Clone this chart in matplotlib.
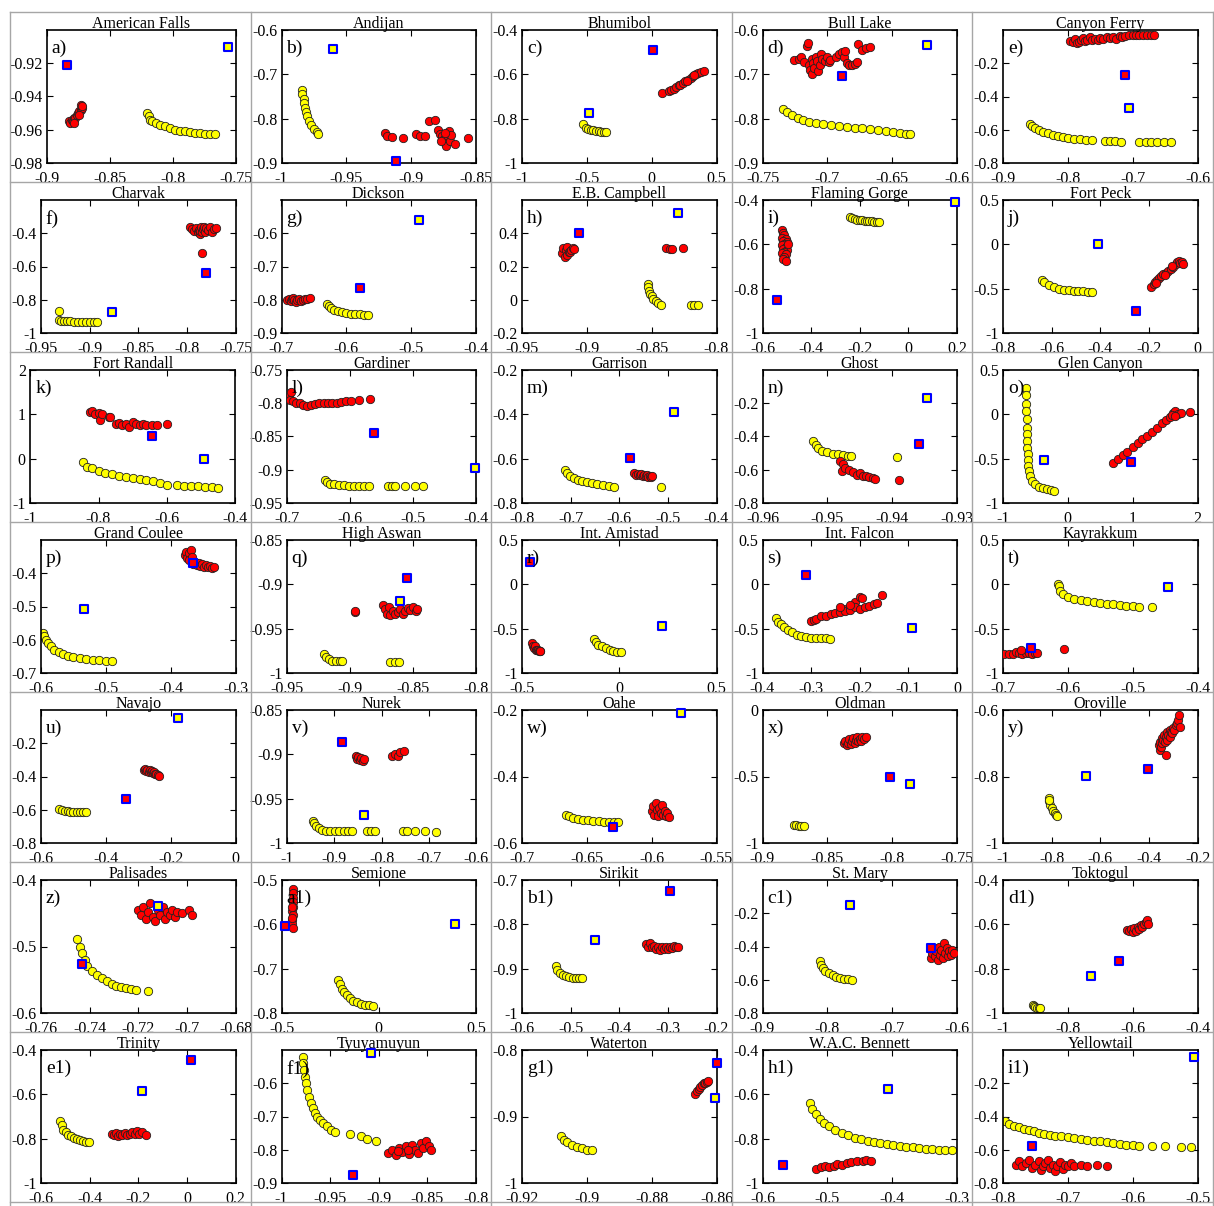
import matplotlib
matplotlib.use("Agg")
import matplotlib.pyplot as plt
from matplotlib.lines import Line2D

plt.rcParams['font.family'] = ['Liberation Serif', 'DejaVu Serif']
plt.rcParams['axes.unicode_minus'] = False

# ---- panel titles / tags ----
titles = ["American Falls", "Andijan", "Bhumibol", "Bull Lake", "Canyon Ferry",
          "Charvak", "Dickson", "E.B. Campbell", "Flaming Gorge", "Fort Peck",
          "Fort Randall", "Gardiner", "Garrison", "Ghost", "Glen Canyon",
          "Grand Coulee", "High Aswan", "Int. Amistad", "Int. Falcon", "Kayrakkum",
          "Navajo", "Nurek", "Oahe", "Oldman", "Oroville",
          "Palisades", "Semione", "Sirikit", "St. Mary", "Toktogul",
          "Trinity", "Tyuyamuyun", "Waterton", "W.A.C. Bennett", "Yellowtail"]
tags = ["a)", "b)", "c)", "d)", "e)", "f)", "g)", "h)", "i)", "j)", "k)", "l)", "m)", "n)", "o)",
        "p)", "q)", "r)", "s)", "t)", "u)", "v)", "w)", "x)", "y)", "z)", "a1)", "b1)", "c1)", "d1)",
        "e1)", "f1)", "g1)", "h1)", "i1)"]

xlims = [(-0.9, -0.75), (-1, -0.85), (-1, 0.5), (-0.75, -0.6), (-0.9, -0.6),
         (-0.95, -0.75), (-0.7, -0.4), (-0.95, -0.8), (-0.6, 0.2), (-0.8, 0),
         (-1, -0.4), (-0.7, -0.4), (-0.8, -0.4), (-0.96, -0.93), (-1, 2),
         (-0.6, -0.3), (-0.95, -0.8), (-0.5, 0.5), (-0.4, 0), (-0.7, -0.4),
         (-0.6, 0), (-1, -0.6), (-0.7, -0.55), (-0.9, -0.75), (-1, -0.2),
         (-0.76, -0.68), (-0.5, 0.5), (-0.6, -0.2), (-0.9, -0.6), (-1, -0.4),
         (-0.6, 0.2), (-1, -0.8), (-0.92, -0.86), (-0.6, -0.3), (-0.8, -0.5)]
xticks = [[-0.9, -0.85, -0.8, -0.75], [-1, -0.95, -0.9, -0.85], [-1, -0.5, 0, 0.5],
          [-0.75, -0.7, -0.65, -0.6], [-0.9, -0.8, -0.7, -0.6],
          [-0.95, -0.9, -0.85, -0.8, -0.75], [-0.7, -0.6, -0.5, -0.4], [-0.95, -0.9, -0.85, -0.8],
          [-0.6, -0.4, -0.2, 0, 0.2], [-0.8, -0.6, -0.4, -0.2, 0],
          [-1, -0.8, -0.6, -0.4], [-0.7, -0.6, -0.5, -0.4], [-0.8, -0.7, -0.6, -0.5, -0.4],
          [-0.96, -0.95, -0.94, -0.93], [-1, 0, 1, 2],
          [-0.6, -0.5, -0.4, -0.3], [-0.95, -0.9, -0.85, -0.8], [-0.5, 0, 0.5],
          [-0.4, -0.3, -0.2, -0.1, 0], [-0.7, -0.6, -0.5, -0.4],
          [-0.6, -0.4, -0.2, 0], [-1, -0.9, -0.8, -0.7, -0.6], [-0.7, -0.65, -0.6, -0.55],
          [-0.9, -0.85, -0.8, -0.75], [-1, -0.8, -0.6, -0.4, -0.2],
          [-0.76, -0.74, -0.72, -0.7, -0.68], [-0.5, 0, 0.5], [-0.6, -0.5, -0.4, -0.3, -0.2],
          [-0.9, -0.8, -0.7, -0.6], [-1, -0.8, -0.6, -0.4],
          [-0.6, -0.4, -0.2, 0, 0.2], [-1, -0.95, -0.9, -0.85, -0.8], [-0.92, -0.9, -0.88, -0.86],
          [-0.6, -0.5, -0.4, -0.3], [-0.8, -0.7, -0.6, -0.5]]
ylims = [(-0.98, -0.90), (-0.9, -0.6), (-1, -0.4), (-0.9, -0.6), (-0.8, 0),
         (-1, -0.2), (-0.9, -0.5), (-0.2, 0.6), (-1, -0.4), (-1, 0.5),
         (-1, 2), (-0.95, -0.75), (-0.8, -0.2), (-0.8, 0), (-1, 0.5),
         (-0.7, -0.3), (-1, -0.85), (-1, 0.5), (-1, 0.5), (-1, 0.5),
         (-0.8, 0), (-1, -0.85), (-0.6, -0.2), (-1, 0), (-1, -0.6),
         (-0.6, -0.4), (-0.8, -0.5), (-1, -0.7), (-0.8, 0), (-1, -0.4),
         (-1, -0.4), (-0.9, -0.5), (-1, -0.8), (-1, -0.4), (-0.8, 0)]
yticks = [[-0.98, -0.96, -0.94, -0.92], [-0.9, -0.8, -0.7, -0.6], [-1, -0.8, -0.6, -0.4],
          [-0.9, -0.8, -0.7, -0.6], [-0.8, -0.6, -0.4, -0.2],
          [-1, -0.8, -0.6, -0.4], [-0.9, -0.8, -0.7, -0.6], [-0.2, 0, 0.2, 0.4],
          [-1, -0.8, -0.6, -0.4], [-1, -0.5, 0, 0.5],
          [-1, 0, 1, 2], [-0.95, -0.9, -0.85, -0.8, -0.75], [-0.8, -0.6, -0.4, -0.2],
          [-0.8, -0.6, -0.4, -0.2], [-1, -0.5, 0, 0.5],
          [-0.7, -0.6, -0.5, -0.4], [-1, -0.95, -0.9, -0.85], [-1, -0.5, 0, 0.5],
          [-1, -0.5, 0, 0.5], [-1, -0.5, 0, 0.5],
          [-0.8, -0.6, -0.4, -0.2], [-1, -0.95, -0.9, -0.85], [-0.6, -0.4, -0.2],
          [-1, -0.5, 0], [-1, -0.8, -0.6],
          [-0.6, -0.5, -0.4], [-0.8, -0.7, -0.6, -0.5], [-1, -0.9, -0.8, -0.7],
          [-0.8, -0.6, -0.4, -0.2], [-1, -0.8, -0.6, -0.4],
          [-1, -0.8, -0.6, -0.4], [-0.9, -0.8, -0.7, -0.6], [-1, -0.9, -0.8],
          [-1, -0.8, -0.6, -0.4], [-0.8, -0.6, -0.4, -0.2]]

# ---- a) American Falls ----
yel_a = [(-0.820, -0.950), (-0.819, -0.952), (-0.818, -0.954), (-0.816, -0.955), (-0.813, -0.956),
         (-0.810, -0.957), (-0.806, -0.958), (-0.802, -0.959), (-0.798, -0.960), (-0.794, -0.9605),
         (-0.790, -0.961), (-0.786, -0.9615), (-0.782, -0.962), (-0.778, -0.962), (-0.774, -0.9625),
         (-0.770, -0.9625), (-0.766, -0.9625)]
red_a = [(-0.882, -0.955), (-0.881, -0.956), (-0.880, -0.954), (-0.879, -0.955), (-0.878, -0.953),
         (-0.877, -0.953), (-0.876, -0.951), (-0.875, -0.950), (-0.874, -0.949), (-0.873, -0.948),
         (-0.872, -0.947), (-0.873, -0.945), (-0.872, -0.946), (-0.874, -0.951), (-0.878, -0.956)]
sqr_a = [(-0.884, -0.921)]
sqy_a = [(-0.756, -0.910)]

# ---- b) Andijan ----
yel_b = [(-0.984, -0.735), (-0.984, -0.745), (-0.983, -0.755), (-0.983, -0.765), (-0.982, -0.775),
         (-0.981, -0.785), (-0.980, -0.795), (-0.979, -0.805), (-0.977, -0.815), (-0.975, -0.823),
         (-0.973, -0.830), (-0.972, -0.835)]
red_b = [(-0.920, -0.832), (-0.919, -0.840), (-0.915, -0.842), (-0.906, -0.843), (-0.896, -0.834),
         (-0.893, -0.838), (-0.889, -0.840), (-0.886, -0.805), (-0.882, -0.802), (-0.879, -0.825),
         (-0.878, -0.835), (-0.876, -0.840), (-0.875, -0.845), (-0.874, -0.855), (-0.873, -0.862),
         (-0.871, -0.828), (-0.870, -0.850), (-0.869, -0.836), (-0.866, -0.858), (-0.856, -0.843),
         (-0.877, -0.850), (-0.874, -0.832)]
sqr_b = [(-0.912, -0.895)]
sqy_b = [(-0.960, -0.643)]

# ---- c) Bhumibol ----
yel_c = [(-0.53, -0.825), (-0.51, -0.840), (-0.49, -0.845), (-0.47, -0.850), (-0.45, -0.852),
         (-0.43, -0.855), (-0.41, -0.857), (-0.39, -0.860), (-0.37, -0.860), (-0.35, -0.862)]
red_c = [(0.08, -0.685), (0.13, -0.675), (0.15, -0.672), (0.17, -0.665), (0.19, -0.658),
         (0.21, -0.650), (0.22, -0.648), (0.24, -0.640), (0.26, -0.632), (0.28, -0.625),
         (0.30, -0.615), (0.32, -0.607), (0.34, -0.598), (0.36, -0.592), (0.38, -0.588),
         (0.40, -0.585), (0.27, -0.628), (0.33, -0.605)]
sqr_c = [(0.01, -0.49)]
sqy_c = [(-0.48, -0.775)]

# ---- d) Bull Lake ----
yel_d = [(-0.734, -0.778), (-0.731, -0.785), (-0.727, -0.792), (-0.723, -0.798), (-0.719, -0.803),
         (-0.714, -0.807), (-0.709, -0.810), (-0.703, -0.812), (-0.697, -0.814), (-0.691, -0.816),
         (-0.685, -0.818), (-0.679, -0.820), (-0.673, -0.822), (-0.667, -0.824), (-0.661, -0.826),
         (-0.655, -0.828), (-0.649, -0.830), (-0.644, -0.832), (-0.639, -0.834), (-0.636, -0.835)]
red_d = [(-0.726, -0.668), (-0.722, -0.665), (-0.720, -0.660), (-0.718, -0.672), (-0.716, -0.635),
         (-0.715, -0.630), (-0.714, -0.680), (-0.713, -0.690), (-0.712, -0.700), (-0.712, -0.665),
         (-0.711, -0.675), (-0.710, -0.685), (-0.709, -0.660), (-0.708, -0.670), (-0.707, -0.692),
         (-0.706, -0.678), (-0.705, -0.655), (-0.704, -0.665), (-0.702, -0.670), (-0.700, -0.660),
         (-0.699, -0.672), (-0.698, -0.667), (-0.693, -0.660), (-0.691, -0.655), (-0.689, -0.650),
         (-0.687, -0.662), (-0.686, -0.648), (-0.685, -0.675), (-0.683, -0.680), (-0.681, -0.678),
         (-0.679, -0.676), (-0.677, -0.672), (-0.676, -0.632), (-0.673, -0.645), (-0.670, -0.640),
         (-0.667, -0.638)]
sqr_d = [(-0.689, -0.704)]
sqy_d = [(-0.623, -0.633)]

# ---- e) Canyon Ferry ----
yel_e = [(-0.858, -0.568), (-0.855, -0.580), (-0.850, -0.592), (-0.845, -0.602), (-0.838, -0.612),
         (-0.831, -0.622), (-0.823, -0.630), (-0.815, -0.638), (-0.807, -0.645), (-0.799, -0.650),
         (-0.790, -0.655), (-0.781, -0.658), (-0.772, -0.661), (-0.763, -0.664), (-0.742, -0.668),
         (-0.735, -0.668), (-0.728, -0.670), (-0.718, -0.672), (-0.690, -0.674), (-0.680, -0.674),
         (-0.672, -0.674), (-0.662, -0.675), (-0.652, -0.675), (-0.641, -0.676)]
red_e = [(-0.796, -0.065), (-0.792, -0.075), (-0.789, -0.055), (-0.786, -0.080), (-0.783, -0.070),
         (-0.780, -0.060), (-0.777, -0.050), (-0.774, -0.068), (-0.770, -0.058), (-0.766, -0.045),
         (-0.762, -0.062), (-0.758, -0.052), (-0.754, -0.060), (-0.750, -0.048), (-0.745, -0.055),
         (-0.740, -0.045), (-0.735, -0.050), (-0.730, -0.040), (-0.725, -0.052), (-0.720, -0.038),
         (-0.716, -0.045), (-0.712, -0.035), (-0.705, -0.030), (-0.700, -0.028), (-0.695, -0.030),
         (-0.690, -0.028), (-0.684, -0.030), (-0.678, -0.028), (-0.672, -0.028), (-0.667, -0.030)]
sqr_e = [(-0.712, -0.268)]
sqy_e = [(-0.705, -0.468)]

# ---- f) Charvak ----
yel_f = [(-0.932, -0.866), (-0.931, -0.922), (-0.929, -0.926), (-0.926, -0.928), (-0.923, -0.930),
         (-0.920, -0.930), (-0.916, -0.931), (-0.912, -0.932), (-0.908, -0.933), (-0.904, -0.934),
         (-0.900, -0.934), (-0.896, -0.935), (-0.892, -0.936)]
red_f = [(-0.797, -0.360), (-0.795, -0.372), (-0.793, -0.385), (-0.791, -0.368), (-0.789, -0.395),
         (-0.788, -0.378), (-0.787, -0.405), (-0.786, -0.385), (-0.785, -0.365), (-0.784, -0.392),
         (-0.783, -0.375), (-0.782, -0.360), (-0.781, -0.395), (-0.780, -0.370), (-0.778, -0.380),
         (-0.776, -0.365), (-0.774, -0.390), (-0.772, -0.372), (-0.770, -0.368), (-0.784, -0.518)]
sqr_f = [(-0.780, -0.638)]
sqy_f = [(-0.877, -0.876)]

# ---- g) Dickson ----
yel_g = [(-0.630, -0.813), (-0.627, -0.820), (-0.624, -0.826), (-0.619, -0.830), (-0.613, -0.834),
         (-0.607, -0.837), (-0.600, -0.840), (-0.593, -0.842), (-0.586, -0.843), (-0.579, -0.844),
         (-0.572, -0.845), (-0.566, -0.846)]
red_g = [(-0.691, -0.800), (-0.688, -0.797), (-0.686, -0.803), (-0.684, -0.799), (-0.682, -0.795),
         (-0.680, -0.802), (-0.678, -0.806), (-0.676, -0.800), (-0.673, -0.798), (-0.670, -0.803),
         (-0.667, -0.800), (-0.664, -0.799), (-0.660, -0.797), (-0.656, -0.794)]
sqr_g = [(-0.579, -0.766)]
sqy_g = [(-0.488, -0.561)]

# ---- h) E.B. Campbell ----
yel_h = [(-0.853, 0.094), (-0.853, 0.075), (-0.852, 0.055), (-0.851, 0.035), (-0.850, 0.020),
         (-0.849, 0.005), (-0.847, -0.010), (-0.845, -0.022), (-0.843, -0.030), (-0.820, -0.032),
         (-0.817, -0.034), (-0.814, -0.033)]
red_h = [(-0.919, 0.28), (-0.918, 0.31), (-0.917, 0.26), (-0.916, 0.30), (-0.915, 0.27),
         (-0.915, 0.32), (-0.914, 0.29), (-0.913, 0.285), (-0.912, 0.30), (-0.911, 0.31),
         (-0.910, 0.305), (-0.839, 0.31), (-0.836, 0.308), (-0.834, 0.305), (-0.826, 0.313)]
sqr_h = [(-0.906, 0.40)]
sqy_h = [(-0.830, 0.52)]

# ---- i) Flaming Gorge ----
yel_i = [(-0.240, -0.475), (-0.230, -0.480), (-0.220, -0.485), (-0.210, -0.488), (-0.200, -0.490),
         (-0.190, -0.492), (-0.180, -0.493), (-0.170, -0.494), (-0.160, -0.495), (-0.150, -0.496),
         (-0.140, -0.497), (-0.130, -0.497), (-0.120, -0.497)]
red_i = [(-0.520, -0.535), (-0.515, -0.550), (-0.510, -0.560), (-0.520, -0.570), (-0.505, -0.575),
         (-0.515, -0.585), (-0.500, -0.590), (-0.510, -0.600), (-0.520, -0.605), (-0.505, -0.610),
         (-0.515, -0.620), (-0.500, -0.625), (-0.510, -0.635), (-0.520, -0.640), (-0.505, -0.645),
         (-0.510, -0.655), (-0.515, -0.665), (-0.505, -0.675), (-0.495, -0.600)]
sqr_i = [(-0.542, -0.853)]
sqy_i = [(0.192, -0.408)]

# ---- j) Fort Peck ----
yel_j = [(-0.64, -0.40), (-0.63, -0.43), (-0.61, -0.46), (-0.59, -0.48), (-0.57, -0.50),
         (-0.55, -0.51), (-0.53, -0.52), (-0.51, -0.525), (-0.49, -0.53), (-0.47, -0.53),
         (-0.45, -0.535), (-0.435, -0.535)]
red_j = [(-0.19, -0.48), (-0.18, -0.45), (-0.175, -0.42), (-0.165, -0.40), (-0.16, -0.38),
         (-0.15, -0.36), (-0.14, -0.34), (-0.13, -0.32), (-0.12, -0.30), (-0.11, -0.28),
         (-0.10, -0.25), (-0.09, -0.22), (-0.085, -0.20), (-0.075, -0.19), (-0.07, -0.21),
         (-0.065, -0.20), (-0.058, -0.22), (-0.105, -0.24), (-0.17, -0.44), (-0.135, -0.35)]
sqr_j = [(-0.255, -0.75)]
sqy_j = [(-0.41, 0.005)]

# ---- k) Fort Randall ----
yel_k = [(-0.845, -0.07), (-0.835, -0.18), (-0.82, -0.22), (-0.80, -0.28), (-0.78, -0.32),
         (-0.76, -0.35), (-0.74, -0.38), (-0.72, -0.41), (-0.70, -0.43), (-0.68, -0.46),
         (-0.66, -0.48), (-0.64, -0.51), (-0.62, -0.55), (-0.60, -0.60), (-0.57, -0.60),
         (-0.55, -0.61), (-0.53, -0.62), (-0.51, -0.62), (-0.49, -0.63), (-0.47, -0.63),
         (-0.45, -0.66)]
red_k = [(-0.826, 1.05), (-0.82, 1.07), (-0.81, 1.00), (-0.80, 1.02), (-0.795, 0.88),
         (-0.79, 1.00), (-0.77, 0.93), (-0.765, 0.95), (-0.75, 0.78), (-0.74, 0.80),
         (-0.73, 0.76), (-0.72, 0.78), (-0.71, 0.72), (-0.70, 0.83), (-0.69, 0.78),
         (-0.68, 0.75), (-0.67, 0.79), (-0.66, 0.75), (-0.645, 0.75), (-0.63, 0.77), (-0.60, 0.78)]
sqr_k = [(-0.644, 0.52)]
sqy_k = [(-0.492, 0.0)]

# ---- l) Gardiner ----
yel_l = [(-0.639, -0.916), (-0.636, -0.919), (-0.632, -0.921), (-0.625, -0.922), (-0.618, -0.923),
         (-0.610, -0.923), (-0.602, -0.924), (-0.594, -0.924), (-0.586, -0.924), (-0.578, -0.924),
         (-0.570, -0.924), (-0.540, -0.925), (-0.534, -0.925), (-0.528, -0.925), (-0.512, -0.925),
         (-0.497, -0.925), (-0.484, -0.925)]
red_l = [(-0.697, -0.788), (-0.695, -0.795), (-0.694, -0.783), (-0.690, -0.797), (-0.686, -0.800),
         (-0.680, -0.800), (-0.674, -0.803), (-0.668, -0.804), (-0.662, -0.802), (-0.656, -0.801),
         (-0.649, -0.800), (-0.642, -0.800), (-0.635, -0.800), (-0.628, -0.799), (-0.621, -0.799),
         (-0.614, -0.798), (-0.607, -0.797), (-0.598, -0.797), (-0.585, -0.795), (-0.568, -0.794)]
sqr_l = [(-0.562, -0.844)]
sqy_l = [(-0.402, -0.898)]

# ---- m) Garrison ----
yel_m = [(-0.712, -0.650), (-0.708, -0.665), (-0.702, -0.677), (-0.694, -0.687), (-0.685, -0.695),
         (-0.676, -0.701), (-0.666, -0.706), (-0.656, -0.711), (-0.645, -0.715), (-0.634, -0.719),
         (-0.622, -0.724), (-0.610, -0.730), (-0.514, -0.730)]
red_m = [(-0.570, -0.665), (-0.566, -0.672), (-0.562, -0.668), (-0.558, -0.675), (-0.555, -0.670),
         (-0.552, -0.678), (-0.549, -0.672), (-0.546, -0.680), (-0.543, -0.675), (-0.540, -0.682),
         (-0.537, -0.676), (-0.534, -0.683), (-0.532, -0.678)]
sqr_m = [(-0.577, -0.597)]
sqy_m = [(-0.487, -0.388)]

# ---- n) Ghost ----
yel_n = [(-0.9522, -0.43), (-0.9518, -0.45), (-0.9514, -0.47), (-0.9508, -0.485), (-0.9500, -0.495),
         (-0.9492, -0.503), (-0.9484, -0.508), (-0.9476, -0.512), (-0.9468, -0.516), (-0.9463, -0.52),
         (-0.9392, -0.526)]
red_n = [(-0.9480, -0.55), (-0.9476, -0.565), (-0.9478, -0.61), (-0.9472, -0.59), (-0.9466, -0.60),
         (-0.9460, -0.615), (-0.9455, -0.63), (-0.9450, -0.62), (-0.9445, -0.64), (-0.9440, -0.635),
         (-0.9435, -0.645), (-0.9430, -0.65), (-0.9427, -0.655), (-0.9389, -0.66)]
sqr_n = [(-0.9359, -0.444)]
sqy_n = [(-0.9347, -0.17)]

# ---- o) Glen Canyon ----
yel_o = [(-0.64, 0.30), (-0.64, 0.22), (-0.64, 0.12), (-0.64, 0.04), (-0.635, -0.05),
         (-0.635, -0.15), (-0.63, -0.22), (-0.63, -0.30), (-0.625, -0.38), (-0.62, -0.45),
         (-0.615, -0.52), (-0.61, -0.58), (-0.60, -0.64), (-0.58, -0.70), (-0.55, -0.75),
         (-0.50, -0.79), (-0.44, -0.82), (-0.38, -0.83), (-0.32, -0.84), (-0.26, -0.85), (-0.22, -0.86)]
red_o = [(0.70, -0.55), (0.78, -0.50), (0.85, -0.46), (0.92, -0.42), (1.00, -0.37),
         (1.08, -0.32), (1.15, -0.28), (1.22, -0.25), (1.30, -0.20), (1.38, -0.15),
         (1.45, -0.10), (1.52, -0.06), (1.58, -0.03), (1.62, 0.01), (1.66, 0.04),
         (1.70, 0.00), (1.75, 0.02), (1.88, 0.03), (1.60, -0.01), (1.66, -0.02)]
sqr_o = [(0.978, -0.54)]
sqy_o = [(-0.37, -0.51)]

# ---- p) Grand Coulee ----
yel_p = [(-0.597, -0.580), (-0.595, -0.590), (-0.592, -0.600), (-0.589, -0.610), (-0.585, -0.620),
         (-0.580, -0.630), (-0.573, -0.638), (-0.566, -0.643), (-0.558, -0.648), (-0.550, -0.651),
         (-0.540, -0.654), (-0.530, -0.657), (-0.520, -0.660), (-0.510, -0.662), (-0.500, -0.664),
         (-0.490, -0.665)]
red_p = [(-0.378, -0.345), (-0.376, -0.335), (-0.375, -0.355), (-0.372, -0.340), (-0.371, -0.360),
         (-0.369, -0.330), (-0.367, -0.350), (-0.365, -0.372), (-0.362, -0.365), (-0.360, -0.375),
         (-0.357, -0.370), (-0.354, -0.378), (-0.351, -0.372), (-0.348, -0.380), (-0.345, -0.375),
         (-0.342, -0.382), (-0.339, -0.378), (-0.336, -0.384), (-0.333, -0.380)]
sqr_p = [(-0.365, -0.370)]
sqy_p = [(-0.533, -0.507)]

# ---- q) High Aswan ----
yel_q = [(-0.921, -0.979), (-0.919, -0.982), (-0.917, -0.984), (-0.914, -0.986), (-0.911, -0.987),
         (-0.908, -0.987), (-0.906, -0.987), (-0.868, -0.988), (-0.864, -0.988), (-0.861, -0.988)]
red_q = [(-0.896, -0.931), (-0.896, -0.930), (-0.874, -0.923), (-0.872, -0.928), (-0.871, -0.933),
         (-0.869, -0.926), (-0.868, -0.935), (-0.866, -0.930), (-0.864, -0.934), (-0.862, -0.931),
         (-0.860, -0.928), (-0.858, -0.933), (-0.856, -0.930), (-0.854, -0.927), (-0.852, -0.929),
         (-0.850, -0.926), (-0.848, -0.930), (-0.847, -0.928)]
sqr_q = [(-0.855, -0.893)]
sqy_q = [(-0.860, -0.919)]

# ---- r) Int. Amistad ----
yel_r = [(-0.13, -0.62), (-0.12, -0.65), (-0.11, -0.68), (-0.09, -0.70), (-0.07, -0.72),
         (-0.05, -0.74), (-0.03, -0.75), (-0.01, -0.76), (0.01, -0.765)]
red_r = [(-0.450, -0.66), (-0.445, -0.69), (-0.440, -0.72), (-0.435, -0.70), (-0.430, -0.735),
         (-0.425, -0.74), (-0.420, -0.745), (-0.415, -0.75), (-0.410, -0.755), (-0.405, -0.75)]
sqr_r = [(-0.458, 0.256)]
sqy_r = [(0.22, -0.47)]

# ---- s) Int. Falcon ----
yel_s = [(-0.372, -0.38), (-0.368, -0.42), (-0.362, -0.45), (-0.355, -0.48), (-0.348, -0.51),
         (-0.340, -0.54), (-0.330, -0.57), (-0.320, -0.58), (-0.310, -0.59), (-0.300, -0.60),
         (-0.290, -0.60), (-0.280, -0.61), (-0.270, -0.61), (-0.262, -0.62)]
red_s = [(-0.300, -0.41), (-0.295, -0.40), (-0.290, -0.39), (-0.280, -0.36), (-0.270, -0.36),
         (-0.260, -0.34), (-0.250, -0.32), (-0.240, -0.31), (-0.230, -0.28), (-0.230, -0.30),
         (-0.220, -0.26), (-0.220, -0.29), (-0.210, -0.20), (-0.210, -0.25), (-0.200, -0.14),
         (-0.200, -0.28), (-0.195, -0.15), (-0.190, -0.26), (-0.180, -0.24), (-0.170, -0.22),
         (-0.165, -0.21), (-0.155, -0.12), (-0.240, -0.25), (-0.220, -0.23)]
sqr_s = [(-0.310, 0.11)]
sqy_s = [(-0.093, -0.495)]

# ---- t) Kayrakkum ----
yel_t = [(-0.615, 0.00), (-0.614, -0.02), (-0.612, -0.08), (-0.608, -0.11), (-0.600, -0.14),
         (-0.590, -0.16), (-0.580, -0.18), (-0.570, -0.19), (-0.560, -0.20), (-0.550, -0.21),
         (-0.540, -0.22), (-0.530, -0.225), (-0.520, -0.23), (-0.510, -0.24), (-0.500, -0.245),
         (-0.490, -0.25), (-0.470, -0.26)]
red_t = [(-0.698, -0.79), (-0.690, -0.79), (-0.685, -0.785), (-0.680, -0.76), (-0.675, -0.78),
         (-0.670, -0.79), (-0.665, -0.77), (-0.660, -0.78), (-0.655, -0.785), (-0.650, -0.77),
         (-0.648, -0.775), (-0.672, -0.74), (-0.606, -0.73)]
sqr_t = [(-0.657, -0.72)]
sqy_t = [(-0.446, -0.03)]

# ---- u) Navajo ----
yel_u = [(-0.543, -0.598), (-0.535, -0.603), (-0.527, -0.607), (-0.518, -0.610), (-0.509, -0.612),
         (-0.500, -0.613), (-0.490, -0.614), (-0.480, -0.614), (-0.470, -0.615), (-0.462, -0.615)]
red_u = [(-0.282, -0.360), (-0.278, -0.355), (-0.275, -0.365), (-0.272, -0.358), (-0.268, -0.370),
         (-0.265, -0.362), (-0.262, -0.375), (-0.258, -0.368), (-0.255, -0.378), (-0.252, -0.372),
         (-0.248, -0.382), (-0.244, -0.385), (-0.240, -0.390), (-0.235, -0.395)]
sqr_u = [(-0.339, -0.534)]
sqy_u = [(-0.177, -0.046)]

# ---- v) Nurek ----
yel_v = [(-0.944, -0.975), (-0.942, -0.978), (-0.938, -0.981), (-0.932, -0.983), (-0.925, -0.985),
         (-0.917, -0.986), (-0.908, -0.986), (-0.899, -0.987), (-0.890, -0.987), (-0.880, -0.987),
         (-0.871, -0.987), (-0.863, -0.987), (-0.830, -0.987), (-0.822, -0.987), (-0.814, -0.987),
         (-0.754, -0.987), (-0.745, -0.987), (-0.730, -0.987), (-0.707, -0.987), (-0.685, -0.988)]
red_v = [(-0.855, -0.902), (-0.852, -0.905), (-0.849, -0.903), (-0.846, -0.906), (-0.843, -0.904),
         (-0.840, -0.907), (-0.837, -0.905), (-0.778, -0.902), (-0.772, -0.900), (-0.765, -0.902),
         (-0.760, -0.897), (-0.752, -0.896)]
sqr_v = [(-0.883, -0.886)]
sqy_v = [(-0.836, -0.968)]

# ---- w) Oahe ----
yel_w = [(-0.666, -0.515), (-0.664, -0.520), (-0.661, -0.525), (-0.657, -0.528), (-0.653, -0.530),
         (-0.649, -0.532), (-0.645, -0.534), (-0.641, -0.535), (-0.637, -0.536), (-0.633, -0.537),
         (-0.629, -0.537), (-0.626, -0.537)]
red_w = [(-0.600, -0.505), (-0.599, -0.490), (-0.598, -0.515), (-0.597, -0.480), (-0.596, -0.500),
         (-0.595, -0.520), (-0.594, -0.495), (-0.593, -0.510), (-0.592, -0.485), (-0.591, -0.515),
         (-0.590, -0.505), (-0.589, -0.520), (-0.588, -0.510), (-0.587, -0.522)]
sqr_w = [(-0.630, -0.553)]
sqy_w = [(-0.577, -0.210)]

# ---- x) Oldman ----
yel_x = [(-0.876, -0.862), (-0.874, -0.866), (-0.872, -0.870), (-0.870, -0.872), (-0.868, -0.874)]
red_x = [(-0.837, -0.250), (-0.836, -0.235), (-0.835, -0.265), (-0.834, -0.245), (-0.833, -0.220),
         (-0.832, -0.255), (-0.831, -0.235), (-0.830, -0.210), (-0.829, -0.245), (-0.828, -0.225),
         (-0.827, -0.205), (-0.826, -0.235), (-0.825, -0.215), (-0.824, -0.230), (-0.823, -0.200),
         (-0.822, -0.220), (-0.820, -0.200)]
sqr_x = [(-0.802, -0.500)]
sqy_x = [(-0.786, -0.555)]

# ---- y) Oroville ----
yel_y = [(-0.812, -0.865), (-0.810, -0.875), (-0.806, -0.885), (-0.800, -0.895), (-0.794, -0.903),
         (-0.788, -0.910), (-0.782, -0.915), (-0.776, -0.920), (-0.810, -0.870)]
red_y = [(-0.355, -0.720), (-0.360, -0.705), (-0.353, -0.695), (-0.350, -0.710), (-0.345, -0.700),
         (-0.345, -0.685), (-0.340, -0.690), (-0.337, -0.675), (-0.335, -0.695), (-0.330, -0.680),
         (-0.327, -0.665), (-0.325, -0.690), (-0.320, -0.675), (-0.315, -0.660), (-0.315, -0.680),
         (-0.310, -0.665), (-0.305, -0.670), (-0.300, -0.655), (-0.295, -0.660), (-0.290, -0.645),
         (-0.285, -0.640), (-0.280, -0.630), (-0.275, -0.615), (-0.270, -0.650), (-0.330, -0.735)]
sqr_y = [(-0.405, -0.777)]
sqy_y = [(-0.660, -0.797)]

# ---- z) Palisades ----
yel_z = [(-0.745, -0.489), (-0.744, -0.500), (-0.743, -0.510), (-0.742, -0.520), (-0.741, -0.530),
         (-0.739, -0.537), (-0.737, -0.543), (-0.735, -0.548), (-0.733, -0.552), (-0.731, -0.556),
         (-0.729, -0.559), (-0.727, -0.561), (-0.725, -0.563), (-0.723, -0.564), (-0.721, -0.565),
         (-0.716, -0.567)]
red_z = [(-0.720, -0.445), (-0.719, -0.452), (-0.718, -0.440), (-0.717, -0.458), (-0.716, -0.448),
         (-0.715, -0.435), (-0.714, -0.455), (-0.713, -0.462), (-0.712, -0.445), (-0.711, -0.452),
         (-0.710, -0.440), (-0.709, -0.458), (-0.708, -0.448), (-0.707, -0.452), (-0.706, -0.445),
         (-0.705, -0.455), (-0.704, -0.448), (-0.702, -0.450), (-0.699, -0.445), (-0.698, -0.452)]
sqr_z = [(-0.743, -0.527)]
sqy_z = [(-0.712, -0.439)]

# ---- a1) Semione ----
yel_a1 = [(-0.21, -0.725), (-0.20, -0.735), (-0.19, -0.745), (-0.18, -0.752), (-0.165, -0.760),
          (-0.15, -0.766), (-0.13, -0.772), (-0.11, -0.776), (-0.09, -0.779), (-0.07, -0.781),
          (-0.05, -0.783), (-0.03, -0.785)]
red_a1 = [(-0.440, -0.520), (-0.442, -0.530), (-0.441, -0.540), (-0.443, -0.550), (-0.442, -0.560),
          (-0.444, -0.570), (-0.443, -0.580), (-0.445, -0.590), (-0.444, -0.600), (-0.442, -0.608),
          (-0.446, -0.585), (-0.446, -0.560)]
sqr_a1 = [(-0.480, -0.604)]
sqy_a1 = [(0.39, -0.600)]

# ---- b1) Sirikit ----
yel_b1 = [(-0.530, -0.895), (-0.527, -0.903), (-0.522, -0.910), (-0.516, -0.914), (-0.510, -0.917),
          (-0.503, -0.919), (-0.496, -0.920), (-0.489, -0.921), (-0.482, -0.922), (-0.476, -0.922)]
red_b1 = [(-0.345, -0.845), (-0.340, -0.850), (-0.336, -0.843), (-0.332, -0.852), (-0.328, -0.848),
          (-0.324, -0.855), (-0.320, -0.850), (-0.316, -0.858), (-0.312, -0.852), (-0.308, -0.856),
          (-0.304, -0.850), (-0.300, -0.855), (-0.296, -0.850), (-0.292, -0.853), (-0.288, -0.848),
          (-0.284, -0.852), (-0.280, -0.850)]
sqr_b1 = [(-0.295, -0.724)]
sqy_b1 = [(-0.450, -0.835)]

# ---- c1) St. Mary ----
yel_c1 = [(-0.812, -0.490), (-0.810, -0.510), (-0.807, -0.530), (-0.803, -0.545), (-0.798, -0.560),
          (-0.792, -0.572), (-0.786, -0.582), (-0.780, -0.590), (-0.774, -0.595), (-0.768, -0.598),
          (-0.762, -0.600)]
red_c1 = [(-0.640, -0.470), (-0.638, -0.440), (-0.636, -0.410), (-0.634, -0.460), (-0.632, -0.430),
          (-0.630, -0.480), (-0.628, -0.400), (-0.626, -0.450), (-0.624, -0.420), (-0.622, -0.470),
          (-0.620, -0.380), (-0.618, -0.440), (-0.616, -0.410), (-0.614, -0.460), (-0.612, -0.430),
          (-0.610, -0.450), (-0.607, -0.420), (-0.604, -0.440)]
sqr_c1 = [(-0.640, -0.410)]
sqy_c1 = [(-0.765, -0.150)]

# ---- d1) Toktogul ----
yel_d1 = [(-0.908, -0.962), (-0.905, -0.968), (-0.900, -0.973), (-0.895, -0.976), (-0.890, -0.978),
          (-0.886, -0.979)]
red_d1 = [(-0.619, -0.625), (-0.612, -0.630), (-0.605, -0.620), (-0.600, -0.635), (-0.595, -0.615),
          (-0.590, -0.628), (-0.585, -0.612), (-0.580, -0.620), (-0.575, -0.605), (-0.570, -0.610),
          (-0.565, -0.598), (-0.560, -0.590), (-0.555, -0.580), (-0.553, -0.600)]
sqr_d1 = [(-0.642, -0.765)]
sqy_d1 = [(-0.727, -0.832)]

# ---- e1) Trinity ----
yel_e1 = [(-0.52, -0.720), (-0.515, -0.740), (-0.508, -0.760), (-0.498, -0.772), (-0.488, -0.782),
          (-0.476, -0.790), (-0.464, -0.796), (-0.452, -0.801), (-0.440, -0.806), (-0.428, -0.810),
          (-0.416, -0.813), (-0.404, -0.815)]
red_e1 = [(-0.310, -0.780), (-0.300, -0.785), (-0.292, -0.775), (-0.285, -0.790), (-0.275, -0.780),
          (-0.265, -0.785), (-0.255, -0.775), (-0.245, -0.782), (-0.235, -0.778), (-0.225, -0.772),
          (-0.215, -0.780), (-0.205, -0.765), (-0.195, -0.778), (-0.185, -0.772), (-0.170, -0.785)]
sqr_e1 = [(0.016, -0.444)]
sqy_e1 = [(-0.185, -0.585)]

# ---- f1) Tyuyamuyun ----
yel_f1 = [(-0.978, -0.520), (-0.978, -0.540), (-0.977, -0.560), (-0.976, -0.580), (-0.975, -0.600),
          (-0.974, -0.620), (-0.972, -0.640), (-0.970, -0.660), (-0.968, -0.675), (-0.966, -0.690),
          (-0.963, -0.700), (-0.960, -0.710), (-0.957, -0.720), (-0.953, -0.730), (-0.949, -0.740),
          (-0.945, -0.748), (-0.930, -0.752), (-0.918, -0.760), (-0.912, -0.768), (-0.903, -0.775)]
red_f1 = [(-0.890, -0.810), (-0.886, -0.800), (-0.882, -0.815), (-0.879, -0.795), (-0.876, -0.808),
          (-0.872, -0.790), (-0.869, -0.812), (-0.866, -0.785), (-0.863, -0.800), (-0.860, -0.810),
          (-0.857, -0.780), (-0.854, -0.795), (-0.851, -0.775), (-0.848, -0.790), (-0.846, -0.800),
          (-0.870, -0.800), (-0.880, -0.805)]
sqr_f1 = [(-0.926, -0.875)]
sqy_f1 = [(-0.908, -0.510)]

# ---- g1) Waterton ----
yel_g1 = [(-0.908, -0.930), (-0.907, -0.935), (-0.906, -0.939), (-0.9045, -0.943), (-0.903, -0.946),
          (-0.9015, -0.948), (-0.900, -0.950), (-0.8985, -0.950)]
red_g1 = [(-0.8665, -0.866), (-0.866, -0.862), (-0.8655, -0.858), (-0.865, -0.855), (-0.8645, -0.852),
          (-0.864, -0.850), (-0.8635, -0.849), (-0.863, -0.848), (-0.8625, -0.847)]
sqr_g1 = [(-0.860, -0.819)]
sqy_g1 = [(-0.8605, -0.872)]

# ---- h1) W.A.C. Bennett ----
yel_h1 = [(-0.527, -0.640), (-0.523, -0.665), (-0.518, -0.690), (-0.512, -0.710), (-0.505, -0.730),
          (-0.497, -0.745), (-0.488, -0.760), (-0.478, -0.775), (-0.468, -0.785), (-0.458, -0.795),
          (-0.448, -0.800), (-0.438, -0.810), (-0.428, -0.815), (-0.418, -0.820), (-0.408, -0.825),
          (-0.398, -0.830), (-0.388, -0.833), (-0.378, -0.836), (-0.368, -0.839), (-0.358, -0.842),
          (-0.348, -0.845), (-0.338, -0.847), (-0.328, -0.849), (-0.318, -0.850), (-0.308, -0.852)]
red_h1 = [(-0.517, -0.935), (-0.510, -0.930), (-0.503, -0.925), (-0.497, -0.930), (-0.490, -0.925),
          (-0.485, -0.915), (-0.478, -0.920), (-0.470, -0.910), (-0.463, -0.905), (-0.455, -0.900),
          (-0.445, -0.900), (-0.440, -0.895), (-0.433, -0.900)]
sqr_h1 = [(-0.568, -0.920)]
sqy_h1 = [(-0.406, -0.575)]

# ---- i1) Yellowtail ----
yel_i1 = [(-0.797, -0.430), (-0.790, -0.445), (-0.783, -0.455), (-0.776, -0.465), (-0.768, -0.475),
          (-0.760, -0.480), (-0.752, -0.490), (-0.744, -0.500), (-0.736, -0.505), (-0.728, -0.510),
          (-0.720, -0.515), (-0.710, -0.520), (-0.700, -0.525), (-0.690, -0.530), (-0.680, -0.535),
          (-0.670, -0.540), (-0.660, -0.545), (-0.650, -0.550), (-0.640, -0.555), (-0.630, -0.560),
          (-0.620, -0.565), (-0.610, -0.570), (-0.600, -0.573), (-0.590, -0.575), (-0.570, -0.578),
          (-0.550, -0.580), (-0.525, -0.582), (-0.510, -0.585)]
red_i1 = [(-0.780, -0.690), (-0.775, -0.670), (-0.770, -0.700), (-0.765, -0.680), (-0.760, -0.660),
          (-0.755, -0.710), (-0.750, -0.690), (-0.745, -0.670), (-0.742, -0.720), (-0.738, -0.700),
          (-0.735, -0.680), (-0.730, -0.660), (-0.727, -0.710), (-0.723, -0.690), (-0.720, -0.730),
          (-0.716, -0.700), (-0.712, -0.675), (-0.708, -0.715), (-0.704, -0.690), (-0.700, -0.700),
          (-0.695, -0.680), (-0.690, -0.700), (-0.680, -0.690), (-0.670, -0.695), (-0.655, -0.690),
          (-0.640, -0.695)]
sqr_i1 = [(-0.755, -0.580)]
sqy_i1 = [(-0.505, -0.040)]

yellow_sets = [yel_a, yel_b, yel_c, yel_d, yel_e, yel_f, yel_g, yel_h, yel_i, yel_j, yel_k, yel_l,
               yel_m, yel_n, yel_o, yel_p, yel_q, yel_r, yel_s, yel_t, yel_u, yel_v, yel_w, yel_x,
               yel_y, yel_z, yel_a1, yel_b1, yel_c1, yel_d1, yel_e1, yel_f1, yel_g1, yel_h1, yel_i1]
red_sets = [red_a, red_b, red_c, red_d, red_e, red_f, red_g, red_h, red_i, red_j, red_k, red_l,
            red_m, red_n, red_o, red_p, red_q, red_r, red_s, red_t, red_u, red_v, red_w, red_x,
            red_y, red_z, red_a1, red_b1, red_c1, red_d1, red_e1, red_f1, red_g1, red_h1, red_i1]
sqr_sets = [sqr_a, sqr_b, sqr_c, sqr_d, sqr_e, sqr_f, sqr_g, sqr_h, sqr_i, sqr_j, sqr_k, sqr_l,
            sqr_m, sqr_n, sqr_o, sqr_p, sqr_q, sqr_r, sqr_s, sqr_t, sqr_u, sqr_v, sqr_w, sqr_x,
            sqr_y, sqr_z, sqr_a1, sqr_b1, sqr_c1, sqr_d1, sqr_e1, sqr_f1, sqr_g1, sqr_h1, sqr_i1]
sqy_sets = [sqy_a, sqy_b, sqy_c, sqy_d, sqy_e, sqy_f, sqy_g, sqy_h, sqy_i, sqy_j, sqy_k, sqy_l,
            sqy_m, sqy_n, sqy_o, sqy_p, sqy_q, sqy_r, sqy_s, sqy_t, sqy_u, sqy_v, sqy_w, sqy_x,
            sqy_y, sqy_z, sqy_a1, sqy_b1, sqy_c1, sqy_d1, sqy_e1, sqy_f1, sqy_g1, sqy_h1, sqy_i1]


def fmt(v):
    return f"{v:g}"


W, H = 1214, 1206
fig = plt.figure(figsize=(W / 100, H / 100), dpi=100)

col_w = 240.5
row_h = 170
for idx in range(35):
    r, c = divmod(idx, 5)
    cell_l = 10 + c * col_w
    row_t = 12 + r * row_h
    maxlen = max(len(fmt(v)) for v in yticks[idx])
    left = cell_l + 9 + 5.5 * maxlen
    right = cell_l + col_w - 15
    top = row_t + 18
    h = 133
    ax = fig.add_axes([left / W, 1 - (top + h) / H, (right - left) / W, h / H])

    yel = yellow_sets[idx]
    red = red_sets[idx]
    ax.scatter([p[0] for p in yel], [p[1] for p in yel], s=36, c='#ffff00',
               edgecolors='#222222', linewidths=0.6, zorder=2)
    ax.scatter([p[0] for p in red], [p[1] for p in red], s=36, c='#ff0000',
               edgecolors='#222222', linewidths=0.6, zorder=3)
    sr = sqr_sets[idx]
    sy = sqy_sets[idx]
    ax.scatter([p[0] for p in sr], [p[1] for p in sr], marker='s', s=27, c='#ff0000',
               edgecolors='#0000ff', linewidths=1.5, zorder=5, clip_on=False)
    ax.scatter([p[0] for p in sy], [p[1] for p in sy], marker='s', s=27, c='#ffff00',
               edgecolors='#0000ff', linewidths=1.5, zorder=5, clip_on=False)

    ax.set_xlim(xlims[idx])
    ax.set_ylim(ylims[idx])
    ax.set_xticks(xticks[idx])
    ax.set_xticklabels([fmt(v) for v in xticks[idx]])
    ax.set_yticks(yticks[idx])
    ax.set_yticklabels([fmt(v) for v in yticks[idx]])
    ax.tick_params(direction='in', length=4, width=0.8, top=True, right=True,
                   labelsize=11.5)
    ax.tick_params(axis='x', pad=5.5)
    ax.tick_params(axis='y', pad=3)
    for sp in ax.spines.values():
        sp.set_linewidth(1.2)
    ax.set_title(titles[idx], fontsize=11.5, pad=1.5)
    ax.text(0.025, 0.86, tags[idx], transform=ax.transAxes, fontsize=14,
            va='center', ha='left', zorder=6)

# grey cell borders
gcol = '#a6a6a6'
for c in range(6):
    x = (10 + c * col_w) / W
    fig.add_artist(Line2D([x, x], [1 - 1205 / H, 1 - 12 / H], color=gcol, lw=1))
for r in range(8):
    y = 1 - (12 + r * row_h) / H
    fig.add_artist(Line2D([10 / W, (10 + 5 * col_w) / W], [y, y], color=gcol, lw=1))

fig.savefig("out.png", dpi=100, facecolor='white')
